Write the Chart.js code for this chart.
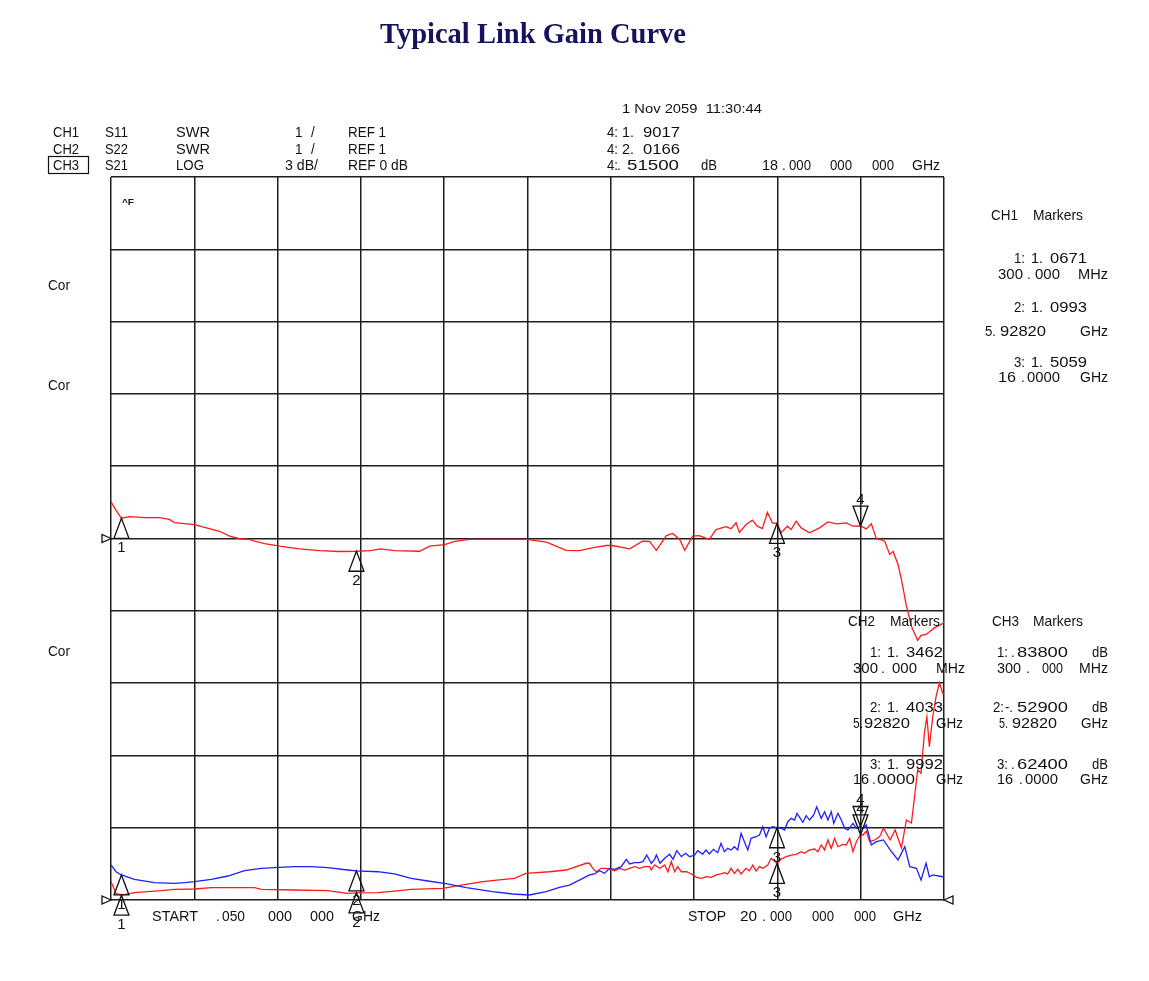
<!DOCTYPE html>
<html lang="en">
<head>
<meta charset="UTF-8">
<title>Typical Link Gain Curve</title>
<script src="https://cdn.jsdelivr.net/npm/chart.js"></script>
<style>
  body { margin: 0; background: #fff; }
  #wrap { position: relative; width: 1149px; height: 981px; }
</style>
</head>
<body>
<div id="wrap"><canvas id="vna" width="1149" height="981"></canvas></div>
<script>
// sweep: 0.05 .. 20 GHz, 10 divisions
const sweepStart = 0.05;
const sweepStop = 20;

// CH3  S21  LOG  3 dB/div  REF 0 dB
const freqS21 = [0.05,0.16,0.30,0.49,0.85,1.21,1.45,1.57,2.05,2.29,2.65,2.89,3.13,3.37,3.49,3.73,4.09,4.56,5.04,5.52,
  5.93,6.26,6.50,6.84,7.44,7.68,8.04,8.28,8.64,8.88,9.35,10.0,10.48,10.95,11.27,11.63,11.91,12.06,12.47,12.78,
  12.95,13.11,13.35,13.50,13.67,13.79,13.98,14.14,14.38,14.54,14.78,14.90,15.02,15.10,15.26,15.41,15.53,15.65,15.77,15.89,
  16.0,16.10,16.25,16.34,16.46,16.58,16.78,17.02,17.22,17.42,17.66,17.82,18.0,18.14,18.26,18.38,18.46,18.58,18.70,18.78,
  18.90,18.98,19.10,19.22,19.37,19.45,19.57,19.77,19.97,20.0];
const gainS21 = [1.52,1.20,0.84,0.91,0.87,0.87,0.79,0.66,0.58,0.46,0.30,0.10,-0.01,-0.04,-0.11,-0.21,-0.32,-0.43,-0.50,-0.54,
  -0.53,-0.50,-0.43,-0.50,-0.53,-0.32,-0.25,-0.12,-0.04,-0.04,-0.04,-0.04,-0.15,-0.49,-0.50,-0.37,-0.29,-0.29,-0.43,-0.11,
  -0.12,-0.49,0.12,0.21,-0.04,-0.49,0.10,0.12,-0.04,0.37,0.49,0.41,0.65,0.25,0.58,0.76,0.51,0.41,1.09,0.65,
  0.62,0.24,0.51,0.37,0.72,0.44,0.24,0.44,0.69,0.61,0.65,0.51,0.52,0.40,0.61,-0.01,-0.04,-0.11,-0.66,-0.53,
  -1.08,-1.70,-2.81,-3.64,-4.23,-4.02,-3.98,-3.71,-3.53,-3.44];

// CH1  S11  SWR  1/div  REF 1
const freqS11 = [0.05,0.17,0.30,0.61,1.25,1.57,2.05,2.45,3.49,3.65,4.44,5.24,5.71,5.93,6.43,6.84,7.24,7.99,8.44,8.95,
  9.35,9.71,9.99,10.55,10.95,11.43,
  11.51,11.59,11.67,11.79,11.91,12.01,12.11,12.23,12.35,12.47,12.59,12.71,12.83,12.95,12.99,13.07,13.19,13.31,13.39,13.47,
  13.55,13.62,13.71,13.83,13.95,14.07,14.19,14.31,14.43,14.54,14.66,14.74,14.82,14.90,14.98,15.06,15.14,15.26,15.34,15.42,
  15.50,15.58,15.66,15.78,15.86,16.0,16.10,16.22,16.34,16.46,16.58,16.66,16.78,16.90,16.98,17.06,17.14,17.22,17.30,17.38,
  17.46,17.58,17.66,17.74,17.82,17.90,18.0,18.06,18.14,18.22,18.34,18.46,
  18.55,18.71,18.83,18.98,19.10,19.22,19.30,19.37,19.45,19.53,19.59,19.65,19.73,19.81,19.89,19.97,20.0];
const swrS11 = [1.253,1.093,1.067,1.101,1.129,1.148,1.152,1.170,1.170,1.148,1.138,1.129,1.093,1.099,1.101,1.124,1.148,1.162,1.207,1.253,
  1.277,1.300,1.369,1.391,1.415,1.508,
  1.508,1.438,1.391,1.438,1.438,1.425,1.405,1.438,1.415,1.438,1.461,1.438,1.461,1.461,1.415,1.484,1.438,1.484,1.391,1.530,
  1.391,1.461,1.391,1.391,1.360,1.314,1.300,1.322,1.314,1.346,1.360,1.378,1.360,1.438,1.369,1.425,1.360,1.438,1.405,1.484,
  1.401,1.461,1.438,1.484,1.577,1.506,1.567,1.599,1.622,1.632,1.668,1.646,1.692,1.705,1.668,1.761,1.692,1.830,1.715,1.853,
  1.737,1.770,1.761,1.853,1.668,1.806,1.902,1.899,1.954,1.806,1.830,1.876,
  1.992,1.830,1.968,1.719,2.107,2.065,2.452,2.798,2.752,3.306,3.535,3.120,3.535,3.812,4.006,3.859,3.860];

// CH2  S22  SWR  1/div  REF 1
const freqS22 = [0.05,0.17,0.30,0.61,1.09,1.57,1.81,2.05,2.45,2.85,3.25,3.65,3.97,4.44,4.84,5.24,5.72,5.93,6.44,6.84,
  7.24,7.64,8.04,8.56,9.19,9.67,10.07,10.47,10.79,11.03,11.35,
  11.51,11.63,11.75,11.87,11.99,12.11,12.27,12.39,12.47,12.59,12.71,12.79,12.88,12.99,13.07,13.11,13.20,13.31,13.43,13.51,
  13.60,13.71,13.81,13.91,14.03,14.10,14.22,14.30,14.38,14.48,14.58,14.66,14.74,14.82,14.90,14.98,15.06,15.14,15.22,15.30,
  15.38,15.50,15.58,15.66,15.74,15.82,15.90,16.0,16.10,16.18,16.26,16.34,16.42,16.48,16.56,16.62,16.70,16.78,16.88,16.95,
  17.06,17.14,17.22,17.30,17.36,17.46,17.54,17.62,17.70,17.82,17.90,18.0,18.06,18.14,18.26,18.38,
  18.55,18.71,18.90,19.06,19.18,19.34,19.45,19.57,19.65,19.73,19.97,20.0];
const swrS22 = [1.484,1.391,1.346,1.286,1.239,1.231,1.239,1.253,1.286,1.332,1.405,1.438,1.447,1.461,1.461,1.447,1.415,1.403,1.391,1.360,
  1.300,1.263,1.231,1.170,1.115,1.083,1.069,1.115,1.176,1.207,1.300,
  1.346,1.360,1.405,1.369,1.438,1.425,1.461,1.563,1.498,1.516,1.516,1.530,1.622,1.508,1.563,1.622,1.508,1.577,1.632,1.563,
  1.682,1.599,1.646,1.599,1.622,1.682,1.636,1.692,1.636,1.701,1.654,1.784,1.668,1.715,1.692,1.737,1.692,1.923,1.806,1.692,
  1.853,1.875,1.899,2.014,1.875,1.992,2.014,1.999,1.992,1.968,2.083,2.130,2.106,2.199,2.130,2.075,2.166,2.106,2.176,2.290,
  2.130,2.221,2.106,2.221,2.061,2.199,2.106,1.992,1.968,2.061,1.992,2.017,1.992,2.037,1.761,1.806,
  1.830,1.692,1.553,1.737,1.461,1.438,1.277,1.508,1.322,1.346,1.322,1.325];

// marker readouts (GHz) - marker 4 is the active one
const markerFreq = [0.3, 5.9282, 16.0, 18.0];
const markerLabels = ['1', '2', '3', '4'];
const markerS11 = [1.0671, 1.0993, 1.5059, 1.9017];
const markerS22 = [1.3462, 1.4033, 1.9992, 2.0166];
const markerS21 = [0.838, -0.529, 0.624, 0.515];

// reference levels
const refSwr = 1;
const refDb = 0;

const red = '#ff1a1a';
const blue = '#1f1fff';
const inkFont = '15px "Liberation Sans", Arial, sans-serif';

// annotation text: [text, x, baseline, width]
const labels = [
  ['CH1',53,137,26], ['S11',105,137,23], ['SWR',176,137,34], ['1',295,137], ['/',311,137], ['REF 1',348,137,38],
  ['CH2',53,153.5,26], ['S22',105,153.5,23], ['SWR',176,153.5,34], ['1',295,153.5], ['/',311,153.5], ['REF 1',348,153.5,38],
  ['CH3',53,170,26], ['S21',105,170,23], ['LOG',176,170,28], ['3 dB/',285,170,33], ['REF 0 dB',348,170,60],
  ['4:',607,137,11], ['1.',622,137,12], ['9017',643,137,37],
  ['4:',607,153.5,11], ['2.',622,153.5,12], ['0166',643,153.5,37],
  ['4:',607,170,11], ['.',617,170], ['51500',627,170,52], ['dB',701,170,16],
  ['18',762,170,16], ['.',782,170], ['000',789,170,22], ['000',830,170,22], ['000',872,170,22], ['GHz',912,170,28],
  ['CH1',991,220,27], ['Markers',1033,220,50],
  ['1:',1014,263,11], ['1.',1031,263,12], ['0671',1050,263,37],
  ['300',998,279,25], ['.',1027,279], ['000',1035,279,25], ['MHz',1078,279,30],
  ['2:',1014,312,11], ['1.',1031,312,12], ['0993',1050,312,37],
  ['5.',985,336,11], ['92820',1000,336,46], ['GHz',1080,336,28],
  ['3:',1014,367,11], ['1.',1031,367,12], ['5059',1050,367,37],
  ['16',998,382,18], ['.',1021,382], ['0000',1027,382,33], ['GHz',1080,382,28],
  ['CH2',848,626,27], ['Markers',890,626,50],
  ['1:',870,657,11], ['1.',887,657,12], ['3462',906,657,37],
  ['300',853,673,25], ['.',881,673], ['000',892,673,25], ['MHz',936,673,29],
  ['2:',870,712,11], ['1.',887,712,12], ['4033',906,712,37],
  ['5.',853,728,10], ['92820',864,728,46], ['GHz',936,728,27],
  ['3:',870,768.5,11], ['1.',887,768.5,12], ['9992',906,768.5,37],
  ['16',853,784,16], ['.',872,784], ['0000',877,784,38], ['GHz',936,784,27],
  ['CH3',992,626,27], ['Markers',1033,626,50],
  ['1:',997,657,11], ['.',1011,657], ['83800',1017,657,51], ['dB',1092,657,16],
  ['300',997,673,24], ['.',1026,673], ['000',1042,673,21], ['MHz',1079,673,29],
  ['2:',993,712,11], ['-.',1005,712,8], ['52900',1017,712,51], ['dB',1092,712,16],
  ['5.',999,728,9], ['92820',1012,728,45], ['GHz',1081,728,27],
  ['3:',997,768.5,11], ['.',1011,768.5], ['62400',1017,768.5,51], ['dB',1092,768.5,16],
  ['16',997,784,16], ['.',1019,784], ['0000',1025,784,33], ['GHz',1080,784,28],
  ['Cor',48,290,22], ['Cor',48,390,22], ['Cor',48,656,22],
  ['START',152,921,46], ['.',216,921], ['050',222,921,23], ['000',268,921,24], ['000',310,921,24], ['GHz',352,921,28],
  ['STOP',688,921,38], ['20',740,921,17], ['.',762,921], ['000',770,921,22], ['000',812,921,22], ['000',854,921,22], ['GHz',893,921,29]
];

function pts(xs, ys) {
  return xs.map((x, i) => ({ x: x, y: ys[i] }));
}

// squeeze text to the width it takes on the analyzer screen
function put(ctx, t, x, y, w) {
  ctx.save();
  ctx.translate(x, y);
  const m = ctx.measureText(t).width;
  ctx.scale(w ? w / m : 0.9, 1);
  ctx.fillText(t, 0, 0);
  ctx.restore();
}

const overlay = {
  id: 'vnaOverlay',
  afterDraw(chart) {
    const ctx = chart.ctx;
    const xs = chart.scales.x;
    const a = chart.chartArea;
    ctx.save();

    // title
    ctx.fillStyle = '#16135c';
    ctx.font = 'bold 28.5px "Liberation Serif", "Times New Roman", serif';
    ctx.textAlign = 'center';
    ctx.fillText('Typical Link Gain Curve', 533, 43);

    ctx.fillStyle = '#111';
    ctx.strokeStyle = '#111';
    ctx.lineWidth = 1.3;

    // markers on each trace
    ctx.font = '15px "Liberation Sans", Arial, sans-serif';
    chart.data.datasets.forEach(ds => {
      const ys = chart.scales[ds.yAxisID];
      ds.markerVals.forEach((v, i) => {
        const px = xs.getPixelForValue(markerFreq[i]);
        const py = ys.getPixelForValue(v);
        const down = i === 3;
        const d = down ? -1 : 1;
        ctx.beginPath();
        ctx.moveTo(px, py);
        ctx.lineTo(px - 7.5, py + d * 20);
        ctx.lineTo(px + 7.5, py + d * 20);
        ctx.closePath();
        ctx.stroke();
        ctx.fillText(markerLabels[i], px, down ? py - 22 : py + 34);
      });
    });

    // reference level arrows
    function refTri(x, y, dir) {
      ctx.beginPath();
      ctx.moveTo(x, y);
      ctx.lineTo(x - dir * 9, y - 4);
      ctx.lineTo(x - dir * 9, y + 4);
      ctx.closePath();
      ctx.stroke();
    }
    refTri(a.left, chart.scales.y2.getPixelForValue(refDb), 1);
    refTri(a.left, chart.scales.y.getPixelForValue(refSwr), 1);
    refTri(a.right, chart.scales.y.getPixelForValue(refSwr), -1);

    // screen annotations
    ctx.textAlign = 'left';
    ctx.font = inkFont;
    labels.forEach(l => put(ctx, l[0], l[1], l[2], l[3]));
    ctx.font = '13px "Liberation Sans", Arial, sans-serif';
    put(ctx, '1 Nov 2059  11:30:44', 622, 113, 140);
    ctx.font = 'bold 9px "Liberation Sans", Arial, sans-serif';
    put(ctx, '^F', 122, 205, 12);

    // active channel box
    ctx.lineWidth = 1.2;
    ctx.strokeRect(48.5, 156.5, 40, 17);
    ctx.restore();
  }
};

const gridStyle = { color: '#1e1e1e', lineWidth: 1.5, drawTicks: false };

new Chart(document.getElementById('vna'), {
  type: 'line',
  data: {
    datasets: [
      { label: 'S22', data: pts(freqS22, swrS22), yAxisID: 'y', borderColor: blue, markerVals: markerS22 },
      { label: 'S11', data: pts(freqS11, swrS11), yAxisID: 'y', borderColor: red, markerVals: markerS11 },
      { label: 'S21', data: pts(freqS21, gainS21), yAxisID: 'y2', borderColor: red, markerVals: markerS21 }
    ]
  },
  options: {
    responsive: false,
    animation: false,
    elements: {
      line: { borderWidth: 1.3, tension: 0 },
      point: { radius: 0 }
    },
    layout: { padding: { left: 111, top: 177, right: 205, bottom: 81 } },
    plugins: { legend: { display: false }, tooltip: { enabled: false } },
    scales: {
      x: {
        type: 'linear', min: sweepStart, max: sweepStop,
        ticks: { display: false },
        afterBuildTicks: ax => {
          ax.ticks = [];
          for (let i = 0; i <= 10; i++) ax.ticks.push({ value: ax.min + i * (ax.max - ax.min) / 10 });
        },
        grid: gridStyle,
        border: { display: false }
      },
      y: {
        min: 1, max: 11,
        ticks: { display: false, stepSize: 1 },
        grid: gridStyle,
        border: { display: false }
      },
      y2: {
        display: false,
        min: -15, max: 15
      }
    }
  },
  plugins: [overlay]
});
</script>
</body>
</html>
